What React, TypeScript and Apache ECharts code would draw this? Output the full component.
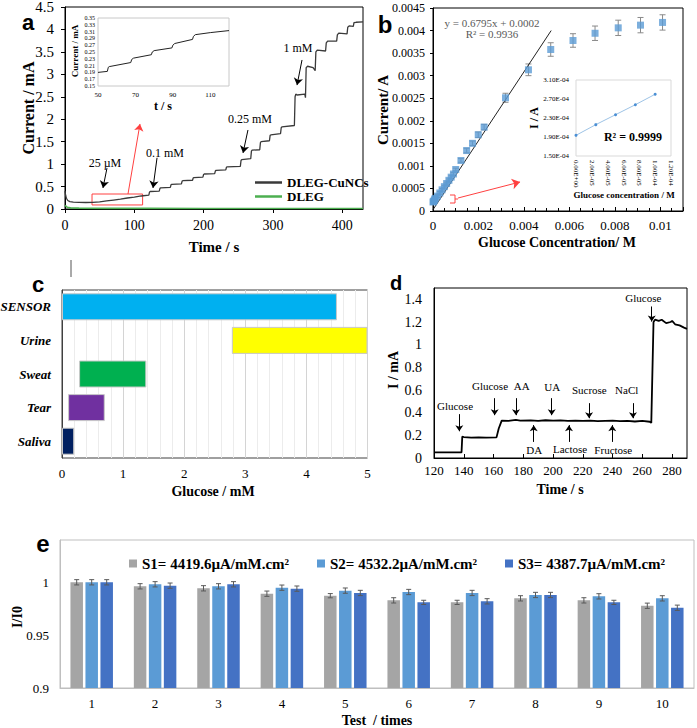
import React, { useEffect, useRef } from 'react';
import * as echarts from 'echarts';

const SERIF = '"Liberation Serif","Times New Roman",serif';
const SANS = '"Liberation Sans",Arial,sans-serif';

// ---------- Panel a : amperometric response ----------
const aCuNCs: number[][] = [
  [0, 0.40], [1, 0.30], [2, 0.24], [4, 0.19], [7, 0.165], [12, 0.155], [20, 0.148], [30, 0.145], [40, 0.148],
  [50, 0.16], [60, 0.18], [70, 0.2], [80, 0.22], [90, 0.245], [100, 0.265], [110, 0.29], [121, 0.31],
  [122, 0.38], [123, 0.39], [136, 0.40],
  [137, 0.46], [138, 0.47], [152, 0.48],
  [153, 0.54], [154, 0.55], [168, 0.56],
  [169, 0.62], [170, 0.63], [184, 0.64],
  [185, 0.69], [186, 0.70], [199, 0.71],
  [200, 0.77], [201, 0.78], [216, 0.79],
  [217, 0.85], [218, 0.86], [232, 0.87],
  [233, 0.93], [234, 0.94], [253, 0.95],
  [254, 1.08], [255, 1.10], [268, 1.12],
  [269, 1.29], [270, 1.31], [281, 1.32],
  [282, 1.48], [283, 1.50], [295, 1.52],
  [296, 1.64], [297, 1.65], [311, 1.68],
  [312, 1.81], [313, 1.83], [331, 1.86],
  [332, 2.50], [333, 2.56], [335, 2.54], [346, 2.56], [347, 2.48],
  [348, 3.15], [350, 3.18], [358, 3.15], [361, 3.08],
  [362, 3.50], [364, 3.54], [376, 3.52],
  [377, 3.70], [379, 3.74], [392, 3.74],
  [393, 3.88], [395, 3.92], [407, 3.90],
  [408, 4.05], [410, 4.08], [416, 4.07],
  [417, 4.15], [420, 4.16], [430, 4.17],
];
const aDLEG: number[][] = [
  [0, 0.08], [3, 0.04], [8, 0.025], [20, 0.02], [60, 0.015], [120, 0.015], [200, 0.012], [300, 0.012], [430, 0.012],
];
const aInset: number[][] = [
  [50, 0.19], [55, 0.193], [55.5, 0.205], [56, 0.207], [67.5, 0.219], [68, 0.228], [69, 0.232],
  [78.5, 0.242], [79, 0.25], [80, 0.254], [89.5, 0.262], [90, 0.27], [91, 0.275],
  [100.5, 0.287], [101, 0.296], [102, 0.301], [110, 0.307], [120, 0.313],
];
const aInsetT0 = 50;
const aInsetI0 = 0.15;
const aArrows = [
  [[60.6, 0.91], [54.8, 0.47]],
  [[132.8, 1.14], [127, 0.47]],
  [[264, 1.76], [256.9, 1.25]],
  [[342, 3.32], [334.8, 2.76]],
];
const aRedArrow = [[90.9, 0.334], [108.2, 1.894]];
const aRedBox = [[39, 0.09], [112, 0.334]];

// ---------- Panel b : calibration ----------
const bConc = [0, 0.000025, 0.00005, 0.000075, 0.0001, 0.0002, 0.0003, 0.0004, 0.0005, 0.0006, 0.0007, 0.0008, 0.0009, 0.001,
  0.00123, 0.00148, 0.00174, 0.00199, 0.00225, 0.00319, 0.0042, 0.00518, 0.00616, 0.00713, 0.00815, 0.00913, 0.0101];
const bCurrent = [0.0002, 0.00021, 0.00023, 0.00026, 0.00028, 0.00033, 0.0004, 0.00047, 0.00054, 0.00061, 0.00068, 0.00075, 0.00082, 0.00092,
  0.00112, 0.00134, 0.0015, 0.00169, 0.00186, 0.00251, 0.00313, 0.00358, 0.00378, 0.00394, 0.00406, 0.00412, 0.00418];
const bErr = [0.00002, 0.00002, 0.00002, 0.00002, 0.00002, 0.00003, 0.00003, 0.00003, 0.00003, 0.00003, 0.00003, 0.00003, 0.00003, 0.00003,
  0.00004, 0.00005, 0.00005, 0.00006, 0.00006, 0.0001, 0.00013, 0.00015, 0.00015, 0.00016, 0.00017, 0.00017, 0.00017];
const bFit = [[0, 0.00003], [0.0052, 0.004]];
const bInsetConc = [0, 2.5e-5, 5e-5, 7.5e-5, 1e-4];
const bInsetI = [1.935e-4, 2.16e-4, 2.37e-4, 2.58e-4, 2.8e-4];
const bInsetI0 = 1.5e-4;
const bRedArrow = [[0.0011, 0.000288], [0.00383, 0.000643]];

// ---------- Panel c : glucose ranges ----------
const cCats = ['SENSOR', 'Urine', 'Sweat', 'Tear', 'Saliva'];
const cStart = [0, 2.78, 0.28, 0.1, 0];
const cEnd = [4.5, 5, 1.38, 0.7, 0.2];
const cColors = ['#00b0f0', '#ffff00', '#00b050', '#7030a0', '#002060'];

// ---------- Panel d : interference ----------
const dCurve: number[][] = [
  [120, 0.05], [138.5, 0.05], [139, 0.19], [140, 0.185], [145, 0.18], [150, 0.182], [155, 0.18], [162, 0.182],
  [163.5, 0.26], [165.5, 0.33], [170, 0.328], [175, 0.336], [178, 0.33], [185, 0.332], [190, 0.328], [195, 0.333],
  [200, 0.33], [205, 0.332], [210, 0.328], [215, 0.33], [220, 0.327], [225, 0.33], [230, 0.325], [235, 0.328],
  [240, 0.33], [245, 0.325], [250, 0.328], [255, 0.322], [260, 0.327], [265, 0.32], [266, 0.31],
  [267.5, 1.2], [268.5, 1.22], [271, 1.21], [273, 1.22], [276, 1.19], [279, 1.2], [280, 1.21], [282, 1.18],
  [285, 1.17], [288, 1.15], [290, 1.14],
];
const dDownArrows = [
  [137, 0.387, 0.236], [160.8, 0.528, 0.378], [175.1, 0.528, 0.378], [199.1, 0.528, 0.378],
  [224.2, 0.484, 0.351], [253.7, 0.484, 0.351], [266.3, 1.337, 1.204],
];
const dUpArrows = [[187, 0.142, 0.29], [210.7, 0.142, 0.29], [239.8, 0.142, 0.29]];

// ---------- Panel e : reproducibility ----------
const eTests = ['1', '2', '3', '4', '5', '6', '7', '8', '9', '10'];
const eNames = ['S1= 4419.6µA/mM.cm²', 'S2= 4532.2µA/mM.cm²', 'S3= 4387.7µA/mM.cm²'];
const eS1 = [1.0, 0.9962, 0.9943, 0.9892, 0.9873, 0.9829, 0.981, 0.9848, 0.9829, 0.9778];
const eS2 = [1.0, 0.9981, 0.9962, 0.9949, 0.9921, 0.9908, 0.9899, 0.988, 0.9867, 0.9848];
const eS3 = [1.0, 0.9968, 0.9981, 0.994, 0.9899, 0.981, 0.982, 0.988, 0.981, 0.9759];
const eErr1 = [0.0025, 0.0025, 0.0025, 0.0025, 0.002, 0.0025, 0.002, 0.0025, 0.0025, 0.0025];
const eErr2 = [0.0025, 0.0025, 0.0025, 0.0025, 0.0025, 0.0025, 0.0025, 0.0025, 0.0025, 0.0025];
const eErr3 = [0.0025, 0.0025, 0.0025, 0.0025, 0.0025, 0.002, 0.0025, 0.0025, 0.002, 0.0025];
const eColors = ['#a5a5a5', '#5b9bd5', '#4472c4'];

function fmtE(v: number) {
  const [m, e] = v.toExponential(2).split('e');
  const n = Number(e);
  return m + 'E' + (n < 0 ? '-' : '+') + String(Math.abs(n)).padStart(2, '0');
}

const lbl = (size: number, extra: any = {}) => ({ fontFamily: SERIF, fontSize: size, color: '#000', ...extra });

function txt(text: string, x: number, y: number, size: number, opts: any = {}) {
  return {
    type: 'text', x, y, rotation: opts.rot ? Math.PI / 2 : 0, z: 100,
    style: {
      text, fill: opts.color || '#000', align: 'center', verticalAlign: 'middle',
      font: `${opts.italic ? 'italic ' : ''}${opts.bold ? 'bold ' : ''}${size}px ${opts.family || SERIF}`,
    },
  };
}

function errBar(color: string, cap: number, offset: number) {
  return (params: any, api: any) => {
    const x0 = api.value(0);
    const v = api.value(1);
    const e = api.value(2);
    const p1 = api.coord([x0, v + e]);
    const p2 = api.coord([x0, v - e]);
    const x = p1[0] + offset;
    const st = { stroke: color, lineWidth: 1 };
    return {
      type: 'group',
      children: [
        { type: 'line', shape: { x1: x, y1: p1[1], x2: x, y2: p2[1] }, style: st },
        { type: 'line', shape: { x1: x - cap, y1: p1[1], x2: x + cap, y2: p1[1] }, style: st },
        { type: 'line', shape: { x1: x - cap, y1: p2[1], x2: x + cap, y2: p2[1] }, style: st },
      ],
    };
  };
}

function arrowLine(p: number[][], color: string) {
  return [
    { coord: p[0], lineStyle: { color, width: 1, type: 'solid' }, symbol: 'none' },
    { coord: p[1], symbol: 'arrow' },
  ];
}

const grids: any[] = [
  { left: 65, top: 7, width: 298, height: 202, show: true, borderColor: '#000', borderWidth: 1 },
  { left: 98, top: 18, width: 131, height: 68, show: true, borderColor: '#c8c8c8', borderWidth: 1, backgroundColor: '#fff' },
  { left: 433, top: 8, width: 250, height: 203, show: true, borderColor: '#000', borderWidth: 1 },
  { left: 576, top: 80, width: 95, height: 76, show: true, borderColor: '#d9d9d9', borderWidth: 1, backgroundColor: '#fff' },
  { left: 62, top: 290, width: 305.5, height: 168, show: true, borderColor: '#404040', borderWidth: 1 },
  { left: 434, top: 288, width: 253, height: 170, show: true, borderColor: '#000', borderWidth: 1 },
  { left: 60, top: 540, width: 634, height: 148, show: true, borderColor: '#bfbfbf', borderWidth: 1 },
].map((g) => ({ ...g, containLabel: false, outerBoundsMode: 'none' }));

const blackLine = { lineStyle: { color: '#000', width: 1 } };

const xAxes: any[] = [
  { gridIndex: 0, type: 'value', min: 0, max: 430, interval: 100, axisLine: blackLine, axisTick: { show: true, length: 4, lineStyle: { color: '#000' } },
    axisLabel: { ...lbl(14), margin: 9, showMaxLabel: false }, splitLine: { show: false } },
  { gridIndex: 1, type: 'value', min: 0, max: 70, interval: 20, axisLine: { show: false }, axisTick: { show: false },
    axisLabel: { ...lbl(7), margin: 5, showMaxLabel: false, formatter: (v: number) => String(Math.round(v + aInsetT0)) }, splitLine: { show: false } },
  { gridIndex: 2, type: 'value', min: 0, max: 0.011, interval: 0.002, axisLine: blackLine,
    axisTick: { show: true, inside: true, length: 4, lineStyle: { color: '#000' } },
    minorTick: { show: true, splitNumber: 4, length: 3, lineStyle: { color: '#000' } },
    axisLabel: { ...lbl(13), margin: 8, showMaxLabel: false, formatter: (v: number) => (v === 0 ? '0' : String(+v.toFixed(4))) }, splitLine: { show: false } },
  { gridIndex: 3, type: 'value', min: 0, max: 1.2e-4, interval: 2e-5, axisLine: { show: false }, axisTick: { show: false },
    axisLabel: { ...lbl(7), margin: 4, rotate: -90, formatter: (v: number) => fmtE(v) }, splitLine: { show: false } },
  { gridIndex: 4, type: 'value', min: 0, max: 5, interval: 1, axisLine: { lineStyle: { color: '#404040' } }, axisTick: { show: false },
    minorTick: { show: false, splitNumber: 5 }, minorSplitLine: { show: true, lineStyle: { color: '#ececec' } },
    axisLabel: { ...lbl(13), margin: 9 }, splitLine: { show: true, lineStyle: { color: '#d4d4d4' } } },
  { gridIndex: 5, type: 'value', min: 120, max: 290, interval: 20, axisLine: blackLine,
    axisTick: { show: true, inside: true, length: 4, lineStyle: { color: '#000' } },
    axisLabel: { ...lbl(13), margin: 6, showMaxLabel: false }, splitLine: { show: false } },
  { gridIndex: 6, type: 'category', data: eTests, axisLine: { lineStyle: { color: '#bfbfbf' } }, axisTick: { show: false },
    axisLabel: { ...lbl(13), margin: 9 } },
];

const yAxes: any[] = [
  { gridIndex: 0, type: 'value', min: 0, max: 4.5, interval: 0.5, axisLine: blackLine, axisTick: { show: true, length: 4, lineStyle: { color: '#000' } },
    axisLabel: { ...lbl(15), margin: 11 }, splitLine: { show: false } },
  { gridIndex: 1, type: 'value', min: 0, max: 0.2, interval: 0.02, axisLine: { show: false }, axisTick: { show: false },
    axisLabel: { ...lbl(6), margin: 3, formatter: (v: number) => (v + aInsetI0).toFixed(2) }, splitLine: { show: false } },
  { gridIndex: 2, type: 'value', min: 0, max: 0.0045, interval: 0.0005, axisLine: blackLine, axisTick: { show: true, length: 3, lineStyle: { color: '#000' } },
    axisLabel: { ...lbl(12), margin: 8, formatter: (v: number) => (v === 0 ? '0' : String(+v.toFixed(4))) }, splitLine: { show: false } },
  { gridIndex: 3, type: 'value', min: 0, max: 1.6e-4, interval: 4e-5, axisLine: { show: false }, axisTick: { show: false },
    axisLabel: { ...lbl(7), margin: 7, formatter: (v: number) => fmtE(v + bInsetI0) }, splitLine: { show: false } },
  { gridIndex: 4, type: 'category', data: cCats, inverse: true, axisLine: { lineStyle: { color: '#404040' } }, axisTick: { show: false },
    axisLabel: { ...lbl(13, { fontWeight: 'bold', fontStyle: 'italic' }), margin: 11 } },
  { gridIndex: 5, type: 'value', min: 0, max: 1.5, interval: 0.2, axisLine: blackLine, axisTick: { show: false },
    axisLabel: { ...lbl(14), margin: 12, showMaxLabel: false }, splitLine: { show: false } },
  { gridIndex: 6, type: 'value', min: 0.9, max: 1.04, interval: 0.05, axisLine: { show: true, lineStyle: { color: '#bfbfbf' } }, axisTick: { show: false },
    axisLabel: { ...lbl(13), margin: 11, showMaxLabel: false }, splitLine: { show: false } },
];

const series: any[] = [
  {
    name: 'DLEG-CuNCs', type: 'line', xAxisIndex: 0, yAxisIndex: 0, data: aCuNCs, showSymbol: false, color: '#3a3a3a',
    lineStyle: { color: '#3a3a3a', width: 1.3 },
    markArea: { silent: true, itemStyle: { color: 'rgba(0,0,0,0)', borderColor: '#ff4040', borderWidth: 1 },
      data: [[{ coord: aRedBox[0] }, { coord: aRedBox[1] }]] },
    markLine: { silent: true, symbolSize: 7, label: { show: false },
      data: [...aArrows.map((a) => arrowLine(a, '#000')), arrowLine(aRedArrow, '#ff4040')] },
  },
  { name: 'DLEG', type: 'line', xAxisIndex: 0, yAxisIndex: 0, data: aDLEG, showSymbol: false, color: '#4caf50', lineStyle: { color: '#4caf50', width: 1.6 } },
  { type: 'line', xAxisIndex: 1, yAxisIndex: 1, data: aInset.map((p) => [p[0] - aInsetT0, p[1] - aInsetI0]), showSymbol: false,
    lineStyle: { color: '#222', width: 1 } },
  { type: 'line', xAxisIndex: 2, yAxisIndex: 2, data: bFit, showSymbol: false, lineStyle: { color: '#222', width: 1 },
    markLine: { silent: true, symbolSize: 8, label: { show: false }, data: [arrowLine(bRedArrow, '#ff4040')] } },
  { type: 'custom', xAxisIndex: 2, yAxisIndex: 2, data: bConc.map((c, i) => [c, bCurrent[i], bErr[i]]),
    renderItem: errBar('#8a8a8a', 3, 0), encode: { x: 0, y: 1 }, z: 3 },
  { type: 'scatter', xAxisIndex: 2, yAxisIndex: 2, data: bConc.map((c, i) => [c, bCurrent[i]]), symbol: 'rect', symbolSize: 7,
    itemStyle: { color: '#5b9bd5' }, z: 4 },
  { type: 'line', xAxisIndex: 3, yAxisIndex: 3, data: bInsetConc.map((c, i) => [c, bInsetI[i] - bInsetI0]), symbol: 'circle', symbolSize: 3,
    lineStyle: { color: '#9dc3e6', width: 1 }, itemStyle: { color: '#4a8fd4' } },
  { type: 'bar', xAxisIndex: 4, yAxisIndex: 4, stack: 'c', barWidth: 27, data: cStart, itemStyle: { color: 'rgba(0,0,0,0)' }, silent: true },
  { type: 'bar', xAxisIndex: 4, yAxisIndex: 4, stack: 'c', barWidth: 27,
    data: cEnd.map((e, i) => ({ value: e - cStart[i], itemStyle: { color: cColors[i], borderColor: '#c8c8c8', borderWidth: 1 } })) },
  {
    type: 'line', xAxisIndex: 5, yAxisIndex: 5, data: dCurve, showSymbol: false, lineStyle: { color: '#000', width: 1.8 },
    markLine: { silent: true, symbolSize: 6, label: { show: false },
      data: [
        ...dDownArrows.map((a) => arrowLine([[a[0], a[1]], [a[0], a[2]]], '#000')),
        ...dUpArrows.map((a) => arrowLine([[a[0], a[1]], [a[0], a[2]]], '#000')),
      ] },
  },
  ...[eS1, eS2, eS3].map((d, k) => ({
    name: eNames[k], type: 'bar', xAxisIndex: 6, yAxisIndex: 6, data: d, barWidth: 12.5, barGap: '20%', color: eColors[k],
    itemStyle: { color: eColors[k] },
  })),
  ...[[eS1, eErr1], [eS2, eErr2], [eS3, eErr3]].map((pair, k) => ({
    type: 'custom', xAxisIndex: 6, yAxisIndex: 6, data: pair[0].map((v, i) => [i, v, pair[1][i]]),
    renderItem: errBar('#595959', 2.5, (k - 1) * 15), encode: { x: 0, y: 1 }, z: 5,
  })),
];

const legendText = { fontFamily: SERIF, fontWeight: 'bold', color: '#000' };
const legends: any[] = [
  { data: ['DLEG-CuNCs'], left: 250, top: 171, icon: 'rect', itemWidth: 27, itemHeight: 2.5, selectedMode: false, textStyle: { ...legendText, fontSize: 13 } },
  { data: ['DLEG'], left: 250, top: 185, icon: 'rect', itemWidth: 27, itemHeight: 2.5, selectedMode: false, textStyle: { ...legendText, fontSize: 13 } },
  ...[124, 312, 500].map((left, k) => ({
    data: [eNames[k]], left, top: 551, icon: 'rect', itemWidth: 8, itemHeight: 8, selectedMode: false, textStyle: { ...legendText, fontSize: 15 },
  })),
];

const graphics: any[] = [
  // panel letters
  txt('a', 28, 22, 22, { bold: true, family: SANS }),
  txt('b', 385, 24, 24, { bold: true, family: SANS }),
  txt('c', 38, 284, 22, { bold: true, family: SANS }),
  txt('d', 396, 283, 20, { bold: true, family: SANS }),
  txt('e', 43, 543, 24, { bold: true, family: SANS }),
  // panel a
  txt('Current / mA', 28, 108, 16, { bold: true, rot: true }),
  txt('Time / s', 214, 247, 15, { bold: true }),
  txt('Current / mA', 75, 51, 9, { bold: true, rot: true }),
  txt('t / s', 163, 106, 12, { bold: true }),
  txt('25 µM', 105, 163, 12),
  txt('0.1 mM', 165, 153, 12),
  txt('0.25 mM', 250, 119, 12),
  txt('1 mM', 298, 48, 12),
  // panel b
  txt('Current/ A', 383, 110, 15, { bold: true, rot: true }),
  txt('Glucose Concentration/ M', 557, 242, 14, { bold: true }),
  txt('y = 0.6795x + 0.0002', 492, 23, 11, { color: '#595959' }),
  txt('R² = 0.9936', 492, 34, 11, { color: '#595959' }),
  txt('I / A', 534, 118, 12, { bold: true, rot: true }),
  txt('R² = 0.9999', 633, 137, 12, { bold: true }),
  txt('Glucose concentration / M', 624, 195, 9, { bold: true }),
  { type: 'polyline', z: 100, shape: { points: [[450, 195], [455, 195], [455, 203], [450, 203]] }, style: { stroke: '#ff4040', lineWidth: 1, fill: 'none' } },
  { type: 'line', z: 100, shape: { x1: 455, y1: 199, x2: 458, y2: 199 }, style: { stroke: '#ff4040', lineWidth: 1 } },
  // panel c
  txt('Glucose / mM', 213, 491, 14, { bold: true }),
  { type: 'line', z: 100, shape: { x1: 71, y1: 260, x2: 71, y2: 277 }, style: { stroke: '#555', lineWidth: 1 } },
  // panel d
  txt('I / mA', 393, 370, 14, { bold: true, rot: true }),
  txt('Time / s', 560, 489, 14, { bold: true }),
  txt('Glucose', 455, 406, 11),
  txt('Glucose', 490, 386, 11),
  txt('AA', 521.7, 386, 11),
  txt('UA', 552.3, 387, 11),
  txt('Sucrose', 589.3, 390, 11),
  txt('NaCl', 626.7, 390, 11),
  txt('DA', 534.3, 450, 11),
  txt('Lactose', 570, 449, 11),
  txt('Fructose', 613.3, 450, 11),
  txt('Glucose', 643.3, 298, 11),
  // panel e
  txt('I/I0', 17, 617, 14, { bold: true, rot: true }),
  txt('Test  / times', 377, 720, 14, { bold: true }),
];

const option: any = {
  animation: false,
  backgroundColor: '#fff',
  textStyle: { fontFamily: SERIF },
  grid: grids,
  xAxis: xAxes,
  yAxis: yAxes,
  legend: legends,
  series,
  graphic: graphics,
};

export default function App() {
  const ref = useRef<HTMLDivElement>(null);
  useEffect(() => {
    const chart = echarts.init(ref.current as HTMLDivElement, null, { renderer: 'svg' });
    chart.setOption(option);
    return () => chart.dispose();
  }, []);
  return <div ref={ref} style={{ position: 'absolute', left: 0, top: 0, width: 697, height: 728, background: '#fff' }} />;
}
